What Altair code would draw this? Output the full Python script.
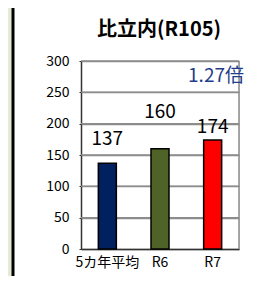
import altair as alt
import pandas as pd

categories = ["5カ年平均", "R6", "R7"]
values = [137, 160, 174]
bar_colors = ["#002060", "#4f6228", "#ff0000"]
title_text = "比立内(R105)"
ratio_text = "1.27倍"
y_ticks = [0, 50, 100, 150, 200, 250, 300]

df = pd.DataFrame({"cat": categories, "val": values, "color": bar_colors})
grid_df = pd.DataFrame({"g": y_ticks[1:]})

W, H = 158, 188
num_font = "Liberation Sans Narrow, Arial Narrow, Noto Sans CJK JP"
cjk_font = "Noto Sans CJK JP"

xscale = alt.Scale(domain=categories, paddingInner=0, paddingOuter=0)
yscale = alt.Scale(domain=[0, 300], nice=False)

xaxis = alt.Axis(title=None, labelAngle=0, labelFont=cjk_font, labelFontSize=14,
                 labelColor="#000", domainColor="#333", domainWidth=1.5,
                 ticks=False, labelPadding=6, grid=False)
yaxis = alt.Axis(title=None, values=y_ticks, tickCount=7, labelOverlap=False, labelFont=cjk_font,
                 labelFontSize=14, labelColor="#000", domainColor="#333", domainWidth=1.5,
                 tickSize=2, tickColor="#333", labelPadding=10,
                 grid=True, gridColor="#8c8c8c", gridWidth=1.5, gridOpacity=1)

xenc = alt.X("cat:N", sort=categories, scale=xscale, axis=xaxis)
yenc = alt.Y("val:Q", scale=yscale, axis=yaxis)

grid = alt.Chart(grid_df).mark_tick(
    color="#8c8c8c", size=W, thickness=1.5, orient="horizontal", opacity=1
).encode(y=alt.Y("g:Q", scale=yscale, axis=yaxis), x=alt.value(W / 2))

base = alt.Chart(df)

bars = base.mark_bar(size=18, stroke="#000", strokeWidth=1.5).encode(
    x=xenc, y=yenc,
    color=alt.Color("color:N", scale=None),
)

label_dy = {"5カ年平均": -14, "R6": -27, "R7": -3}
labels = []
for c in categories:
    labels.append(
        base.transform_filter(alt.datum.cat == c).mark_text(
            baseline="bottom", dy=label_dy[c], font=num_font, fontSize=19, color="#000"
        ).encode(x=xenc, y=yenc, text="val:Q")
    )

title = alt.Chart(pd.DataFrame({"t": [title_text]})).mark_text(
    font=cjk_font, fontSize=20, fontWeight="bold", color="#000", baseline="middle", align="center"
).encode(x=alt.value(78), y=alt.value(-31), text="t:N")

ratio = alt.Chart(pd.DataFrame({"t": [ratio_text]})).mark_text(
    font=cjk_font, fontSize=19, color="#1f3d8a", baseline="middle", align="right"
).encode(x=alt.value(163), y=alt.value(15), text="t:N")

# decorative frame: green strip and black left border
green = alt.Chart(pd.DataFrame({"a": [0]})).mark_rect(color="#e3ecd3", clip=False).encode(
    x=alt.value(-73), x2=alt.value(-69), y=alt.value(-53), y2=alt.value(223))
left_line = alt.Chart(pd.DataFrame({"a": [0]})).mark_rule(color="#000", strokeWidth=3, clip=False).encode(
    x=alt.value(-68), y=alt.value(-53), y2=alt.value(223))
right_border = alt.Chart(pd.DataFrame({"a": [0]})).mark_rule(color="#8c8c8c", strokeWidth=1.5).encode(
    x=alt.value(W), y=alt.value(0), y2=alt.value(H))

chart = alt.layer(grid, bars, *labels, green, left_line, right_border, title, ratio).properties(
    width=W, height=H,
    autosize=alt.AutoSizeParams(type="none"),
    padding={"left": 73, "top": 53, "right": 11, "bottom": 27},
).configure_view(stroke=None).configure(background="white")

chart.save("out.html", embed_options={"renderer": "svg", "actions": False})
